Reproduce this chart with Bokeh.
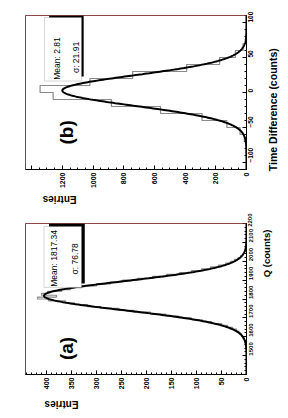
import math
import numpy as np
from bokeh.plotting import figure
from bokeh.layouts import column
from bokeh.models import (Range1d, Label, BoxAnnotation, SingleIntervalTicker,
                          FixedTicker, LinearAxis, Span)
from bokeh.embed import file_html
from bokeh.resources import INLINE

# ---------------- data ----------------
# panel (a): charge histogram, bins of 10 counts starting at 1400
q_start = 1400
q_bin = 10
q_counts = [0, 0, 0, 0, 0, 0, 0, 0, 0, 0, 0, 0, 0, 0, 0, 0,
            2, 3, 4, 7, 10, 11, 15, 20, 28, 38, 50, 70, 88, 110, 136, 162,
            192, 226, 255, 292, 318, 344, 362, 396, 418, 380, 410, 398, 370, 352,
            330, 300, 272, 248, 218, 188, 160, 134, 110, 90, 72, 56, 42, 32, 24,
            17, 12, 8, 5, 3, 2, 1, 1,
            0, 0, 0, 0, 0, 0, 0, 0, 0, 0, 0]
q_fit_amp, q_mean, q_sigma = 405, 1817.34, 76.78
q_range = (1400, 2200)
q_entries_max = 442

# panel (b): time difference histogram, bins of 10 counts starting at -110
t_start = -110
t_bin = 10
t_counts = [0, 0, 2, 4, 14, 42, 128, 290, 560, 880, 1260,
            1345, 1020, 742, 390, 175, 72, 22, 6, 1, 0, 0]
t_fit_amp, t_mean, t_sigma = 1200, 2.81, 21.91
t_range = (-110, 110)
t_entries_max = 1440

FONT = "Liberation Sans"


def outline(counts, start, w):
    xs, ys = [0], [start]
    for i, c in enumerate(counts):
        lo = start + i * w
        xs += [c, c]
        ys += [lo, lo + w]
    xs.append(0)
    ys.append(start + len(counts) * w)
    return xs, ys


def panel(counts, start, w, amp, mean, sigma, yrng, xmax, x_tick, x_minor,
          y_tick, y_minor, xfs, yfs, width, height, bl, br, bt, bb):
    p = figure(width=width, height=height, title=None,
               x_range=Range1d(xmax, 0), y_range=Range1d(*yrng),
               x_axis_location="below", y_axis_location="right",
               output_backend="svg", toolbar_location=None,
               min_border_left=bl, min_border_right=br,
               min_border_top=bt, min_border_bottom=bb)
    p.grid.visible = False
    p.outline_line_color = "#555555"
    p.background_fill_color = "white"
    p.border_fill_color = "white"

    p.xaxis.ticker = SingleIntervalTicker(interval=x_tick, num_minor_ticks=x_minor)
    p.yaxis.ticker = SingleIntervalTicker(interval=y_tick, num_minor_ticks=y_minor)
    for ax in (p.xaxis, p.yaxis):
        ax.major_label_orientation = math.pi / 2
        ax.major_tick_in = 4
        ax.major_tick_out = 0
        ax.minor_tick_in = 2
        ax.minor_tick_out = 0
        ax.axis_line_color = "black"
        ax.major_tick_line_color = "black"
        ax.minor_tick_line_color = "black"
        ax.major_label_text_font = FONT
        ax.major_label_text_font_style = "bold"
        ax.major_label_text_color = "black"
    p.xaxis.major_label_text_font_size = xfs
    p.xaxis.major_label_standoff = 3
    p.yaxis.major_label_text_font_size = yfs
    p.yaxis.major_label_standoff = 4

    p.add_layout(Span(location=yrng[1], dimension="width",
                      line_color="#c43c3c", line_width=1))

    hx, hy = outline(counts, start, w)
    p.line(hx, hy, line_color="#8a8a8a", line_width=1.2)

    fy = np.linspace(yrng[0], yrng[1], 500)
    fx = amp * np.exp(-(fy - mean) ** 2 / (2 * sigma ** 2))
    p.line(fx, fy, line_color="black", line_width=2)
    return p


def title_axis(p, side, pos, text, size, angle, standoff):
    ax = LinearAxis(ticker=FixedTicker(ticks=[pos]),
                    major_label_overrides={pos: text},
                    major_label_orientation=angle,
                    major_label_standoff=standoff,
                    major_label_text_font=FONT,
                    major_label_text_font_size=size,
                    major_label_text_font_style="bold",
                    major_label_text_color="black",
                    axis_line_color=None, major_tick_line_color=None,
                    minor_tick_line_color=None)
    p.add_layout(ax, side)


def txt(p, x, y, s, size, angle, style="normal", align="center"):
    p.add_layout(Label(x=x, y=y, text=s, angle=angle, angle_units="rad",
                       text_align=align, text_baseline="middle",
                       text_font=FONT, text_font_size=size,
                       text_font_style=style, text_color="black"))


# ---------------- panel (b) ----------------
pb = panel(t_counts, t_start, t_bin, t_fit_amp, t_mean, t_sigma, t_range,
           t_entries_max, 200, 4, 50, 5, "7px", "6.5px", 288, 213, 25, 39, 15, 41)
pb.xaxis[0].major_label_overrides = {1400: ""}
pb.add_layout(BoxAnnotation(left=1286, right=1061, bottom=23, top=110,
                            fill_color="black", fill_alpha=1, line_color=None))
pb.add_layout(BoxAnnotation(left=1316, right=1075, bottom=16.4, top=107.2,
                            fill_color="white", fill_alpha=1,
                            line_color="#777777", line_width=1))
txt(pb, 1236, 48.5, "Mean: 2.81", "8.5px", math.pi / 2)
txt(pb, 1112, 50, "σ: 21.91", "8.5px", math.pi / 2)
txt(pb, 1170, -57, "(b)", "19px", math.pi / 2, "bold")
title_axis(pb, "below", 1328, "Entries", "10px", math.pi, 2)
title_axis(pb, "right", 24, "Time Difference (counts)", "10.5px", math.pi / 2, 9)

# ---------------- panel (a) ----------------
pa = panel(q_counts, q_start, q_bin, q_fit_amp, q_mean, q_sigma, q_range,
           q_entries_max, 50, 5, 100, 5, "7px", "6px", 288, 205, 23, 40, 10, 39)
pa.yaxis[0].major_label_overrides = {1400: ""}
pa.add_layout(BoxAnnotation(left=395, right=323.5, bottom=1882, top=2200,
                            fill_color="black", fill_alpha=1, line_color=None))
pa.add_layout(BoxAnnotation(left=405, right=330, bottom=1861.5, top=2184.6,
                            fill_color="white", fill_alpha=1,
                            line_color="#777777", line_width=1))
txt(pa, 384.4, 2015, "Mean: 1817.34", "8.5px", math.pi / 2)
txt(pa, 343.2, 2013, "σ: 76.78", "8.5px", math.pi / 2)
txt(pa, 359.5, 1538, "(a)", "19px", math.pi / 2, "bold")
title_axis(pa, "below", 404, "Entries", "10px", math.pi, 6)
title_axis(pa, "right", 2087, "Q (counts)", "9.5px", math.pi / 2, 3)

layout = column(pb, pa)
open("out.html", "w").write(file_html(layout, INLINE))
